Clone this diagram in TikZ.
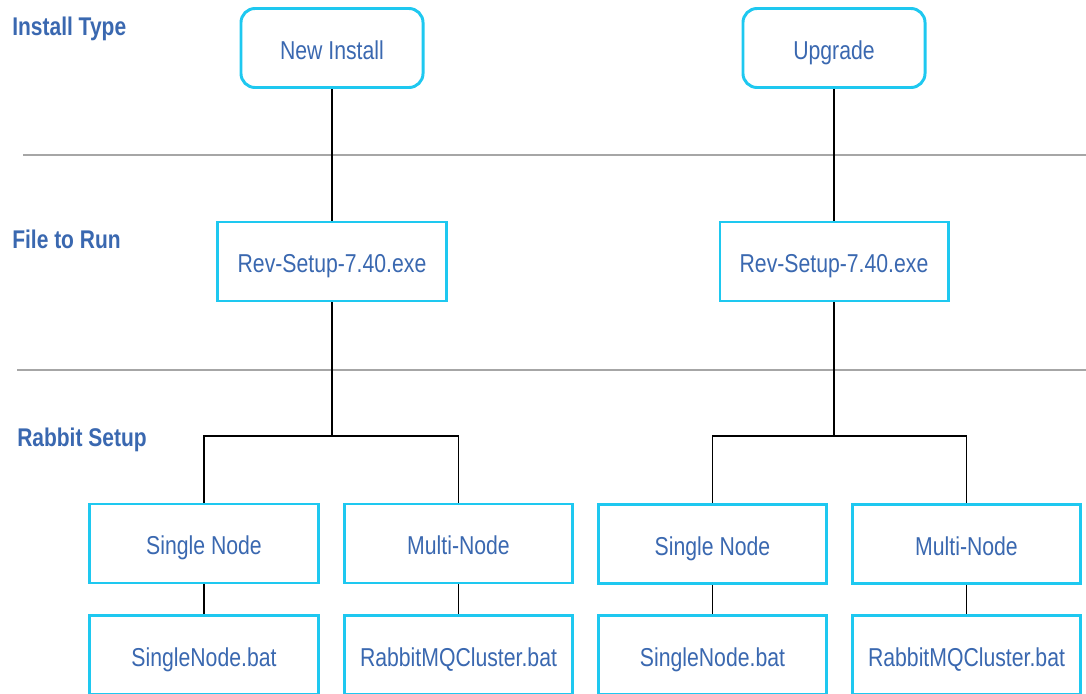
\documentclass[tikz,border=0pt]{standalone}
\usepackage{fontspec}
\setmainfont{Liberation Sans}[FakeStretch=0.82]
\definecolor{labelblue}{RGB}{58,104,176}
\definecolor{boxcyan}{RGB}{30,200,240}

\begin{document}
\begin{tikzpicture}[x=0.025cm, y=-0.025cm,
        heading/.style={anchor=base west, inner sep=0pt, text=labelblue, font=\fontsize{18.2}{21}\selectfont\bfseries},
        typebox/.style={draw=boxcyan, line width=2.1pt, rounded corners=10pt, fill=white, text=labelblue,
            minimum width=4.55cm, minimum height=1.975cm, text height=16.3pt, text depth=0pt,
            font=\fontsize{18.4}{22}\selectfont},
        filebox/.style={typebox, sharp corners, minimum width=5.7cm},
        divider/.style={gray!70, line width=1.3pt},
        link/.style={black, line width=1.4pt}]
        \useasboundingbox (0,0) rectangle (1086,693);

        % Row dividers
        \draw[divider] (23,155) -- (1086,155);
        \draw[divider] (17,370) -- (1086,370);

        % Row headings
        \node[heading] (typehead) at (12,35) {Install Type};
        \node[heading] (filehead) at (12,248) {File to Run};
        \node[heading] (rabbithead) at (17,446) {Rabbit Setup};

        % Install types
        \node[typebox] (newinst) at (332,48) {New Install};
        \node[typebox] (upgrade) at (834,48) {Upgrade};

        % Files to run
        \node[filebox] (revL) at (332,261.5) {Rev-Setup-7.40.exe};
        \node[filebox] (revR) at (834,261.5) {Rev-Setup-7.40.exe};

        % Rabbit setup
        \node[filebox] (singleL) at (204,543.5) {Single Node};
        \node[filebox] (multiL) at (458.5,543.5) {Multi-Node};
        \node[filebox] (singleR) at (712.5,544) {Single Node};
        \node[filebox] (multiR) at (966.5,544) {Multi-Node};

        % Batch files
        \node[filebox] (batL) at (204,655) {SingleNode.bat};
        \node[filebox] (clusterL) at (458.5,655) {RabbitMQCluster.bat};
        \node[filebox] (batR) at (712.5,655) {SingleNode.bat};
        \node[filebox] (clusterR) at (966.5,655) {RabbitMQCluster.bat};

        % Connectors
        \coordinate (forkL) at (332,436);
        \coordinate (forkR) at (834,436);
        \draw[link] (newinst) -- (revL);
        \draw[link] (upgrade) -- (revR);
        \draw[link] (revL) -- (forkL);
        \draw[link] (revR) -- (forkR);
        \draw[link] (singleL.north) |- (forkL) -| (multiL.north);
        \draw[link] (singleR.north) |- (forkR) -| (multiR.north);
        \draw[link] (singleL) -- (batL);
        \draw[link] (multiL) -- (clusterL);
        \draw[link] (singleR) -- (batR);
        \draw[link] (multiR) -- (clusterR);
\end{tikzpicture}
\end{document}
